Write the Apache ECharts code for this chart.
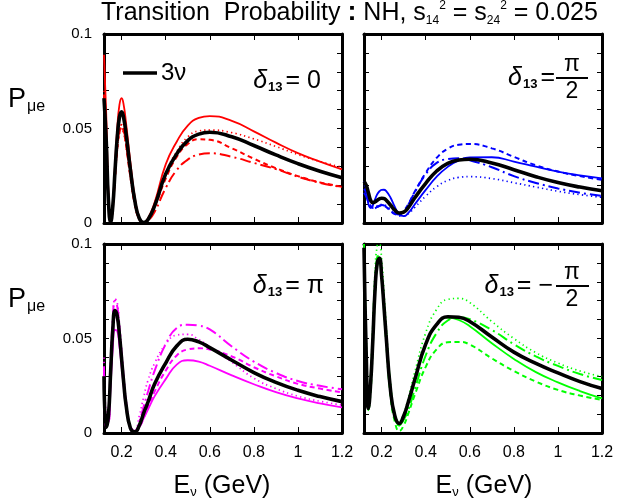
<!DOCTYPE html>
<html><head><meta charset="utf-8">
<script src="https://cdn.jsdelivr.net/npm/echarts@6/dist/echarts.min.js"></script>
<style>html,body{margin:0;padding:0;background:#fff}#c{width:634px;height:499px}</style>
</head><body><div id="c"></div>
<script>
// ---------- data ----------
const energies = [0.12,0.13,0.14,0.15,0.16,0.17,0.18,0.19,0.2,0.21,0.22,0.24,0.26,0.28,0.3,0.32,0.35,0.4,0.45,0.5,0.55,0.6,0.7,0.8,0.9,1.0,1.1,1.2];
const xTickValues = [0.2,0.4,0.6,0.8,1.0,1.2];
const yTickValues = [0,0.01,0.02,0.03,0.04,0.05,0.06,0.07,0.08,0.09,0.1];
const yLabelValues = [0,0.05,0.1];

// delta13 = 0 (red)
const d0_3nu    = [0.066,0.044,0.012,0.0005,0.009,0.0276,0.045,0.0559,0.0588,0.0551,0.0472,0.028,0.0117,0.0025,0.0003,0.0019,0.0092,0.026,0.0365,0.0436,0.047,0.048,0.0456,0.041,0.036,0.0314,0.0274,0.024];
const d0_solid  = [0.089,0.058,0.016,0.0005,0.010,0.031,0.050,0.0625,0.066,0.062,0.053,0.032,0.0135,0.003,0.0003,0.0025,0.011,0.031,0.043,0.0515,0.0556,0.0566,0.054,0.0485,0.0425,0.037,0.0325,0.0284];
const d0_dotted = [0.07,0.046,0.013,0.0005,0.008,0.024,0.038,0.047,0.05,0.047,0.041,0.025,0.011,0.0025,0.0003,0.002,0.0095,0.0265,0.0378,0.0455,0.0487,0.0492,0.0478,0.0445,0.0405,0.0362,0.0325,0.0295];
const d0_dashed = [0.065,0.043,0.012,0.0005,0.008,0.024,0.039,0.048,0.051,0.048,0.041,0.024,0.010,0.0022,0.0003,0.0018,0.0085,0.0235,0.035,0.0418,0.0443,0.044,0.0395,0.034,0.029,0.0248,0.0215,0.0192];
const d0_dashdot= [0.068,0.045,0.013,0.0005,0.008,0.025,0.040,0.049,0.052,0.049,0.042,0.025,0.010,0.002,0.0003,0.0012,0.006,0.0185,0.028,0.0335,0.0362,0.0369,0.035,0.0318,0.0285,0.0245,0.0213,0.019];

// delta13 = pi/2 (blue)
const d1_3nu    = [0.022,0.020,0.016,0.012,0.0108,0.0112,0.012,0.0128,0.0131,0.013,0.0122,0.0095,0.0068,0.0053,0.0058,0.008,0.0132,0.021,0.0275,0.0315,0.0333,0.0337,0.0318,0.0282,0.0245,0.0214,0.019,0.0171];
const d1_solid  = [0.022,0.018,0.010,0.008,0.0095,0.0125,0.0152,0.0168,0.0175,0.0176,0.0170,0.0135,0.0085,0.0045,0.0036,0.0052,0.0098,0.0175,0.0245,0.0297,0.0331,0.0347,0.0348,0.0325,0.0298,0.0272,0.0252,0.0236];
const d1_dotted = [0.02,0.019,0.016,0.012,0.009,0.0085,0.009,0.0095,0.0098,0.0097,0.0092,0.0072,0.005,0.0038,0.0038,0.0048,0.0082,0.0142,0.0192,0.0225,0.0241,0.0245,0.0235,0.0213,0.019,0.0168,0.015,0.0136];
const d1_dashed = [0.018,0.016,0.012,0.009,0.008,0.008,0.0085,0.009,0.0092,0.009,0.0085,0.0065,0.0048,0.0045,0.0065,0.0098,0.0165,0.0265,0.0345,0.0393,0.0414,0.0418,0.0395,0.035,0.0305,0.0272,0.0248,0.0228];
const d1_dashdot= [0.016,0.014,0.011,0.0085,0.0075,0.0078,0.0085,0.0092,0.0095,0.0093,0.0088,0.0068,0.005,0.0045,0.0062,0.0095,0.0162,0.0258,0.0318,0.0338,0.0342,0.0332,0.0295,0.0248,0.0212,0.0183,0.016,0.0143];

// delta13 = pi (magenta)
const d2_3nu    = [0.03,0.003,0.009,0.032,0.055,0.0648,0.062,0.052,0.039,0.026,0.015,0.0025,0.0006,0.004,0.0105,0.0165,0.026,0.037,0.046,0.0496,0.0482,0.0452,0.0385,0.032,0.0268,0.0226,0.0193,0.0166];
const d2_solid  = [0.033,0.006,0.006,0.025,0.045,0.0545,0.054,0.046,0.035,0.0235,0.0135,0.0022,0.0005,0.003,0.0078,0.0125,0.0195,0.0285,0.0362,0.0385,0.0378,0.0356,0.0305,0.0258,0.0216,0.0183,0.0157,0.0136];
const d2_dotted = [0.04,0.008,0.006,0.03,0.058,0.071,0.069,0.058,0.044,0.03,0.018,0.004,0.0015,0.009,0.019,0.028,0.037,0.047,0.0518,0.0522,0.0495,0.0455,0.0375,0.029,0.0235,0.0195,0.0168,0.0148];
const d2_dashed = [0.028,0.003,0.008,0.03,0.052,0.062,0.06,0.051,0.039,0.027,0.016,0.003,0.0005,0.003,0.008,0.0135,0.022,0.033,0.041,0.0442,0.0448,0.0442,0.0405,0.0348,0.030,0.026,0.0235,0.0215];
const d2_dashdot= [0.035,0.004,0.01,0.036,0.061,0.07,0.067,0.056,0.042,0.028,0.016,0.003,0.001,0.006,0.014,0.022,0.033,0.047,0.0555,0.0573,0.0568,0.0548,0.0458,0.0378,0.0318,0.0275,0.025,0.0231];

// delta13 = -pi/2 (green)
const d3_3nu    = [0.098,0.042,0.013,0.026,0.049,0.0755,0.09,0.0925,0.083,0.068,0.052,0.023,0.009,0.005,0.009,0.016,0.028,0.047,0.0575,0.0615,0.0612,0.059,0.0508,0.0428,0.0368,0.0318,0.0272,0.0235];
const d3_solid  = [0.1,0.044,0.012,0.025,0.05,0.077,0.091,0.093,0.083,0.068,0.051,0.022,0.008,0.004,0.008,0.0155,0.0275,0.0465,0.057,0.061,0.0598,0.0565,0.0475,0.0392,0.0322,0.0268,0.0222,0.0183];
const d3_dotted = [0.1,0.05,0.015,0.028,0.055,0.085,0.099,0.1,0.092,0.076,0.058,0.026,0.01,0.006,0.01,0.018,0.032,0.053,0.0655,0.0707,0.0712,0.069,0.059,0.05,0.0425,0.037,0.0328,0.0298];
const d3_dashed = [0.097,0.045,0.012,0.022,0.046,0.073,0.088,0.091,0.082,0.066,0.049,0.02,0.006,0.001,0.004,0.01,0.02,0.035,0.0443,0.048,0.0482,0.0468,0.0395,0.0328,0.0272,0.0228,0.0198,0.0175];
const d3_dashdot= [0.095,0.04,0.014,0.03,0.055,0.08,0.093,0.094,0.085,0.07,0.054,0.025,0.009,0.004,0.007,0.012,0.023,0.041,0.053,0.0595,0.0612,0.0602,0.0545,0.047,0.0405,0.0355,0.0312,0.028];

const panelColors = ['#ff0000','#0000ff','#ff00ff','#00ff00'];
const panelData = [
  {black:d0_3nu, solid:d0_solid, dotted:d0_dotted, dashed:d0_dashed, dashdot:d0_dashdot},
  {black:d1_3nu, solid:d1_solid, dotted:d1_dotted, dashed:d1_dashed, dashdot:d1_dashdot},
  {black:d2_3nu, solid:d2_solid, dotted:d2_dotted, dashed:d2_dashed, dashdot:d2_dashdot},
  {black:d3_3nu, solid:d3_solid, dotted:d3_dotted, dashed:d3_dashed, dashdot:d3_dashdot}
];

// ---------- layout ----------
const FONT = '"Liberation Sans", "DejaVu Sans", sans-serif';
const grids = [
  {left:104, top:34, width:238, height:189},
  {left:364, top:34, width:238, height:189},
  {left:104, top:244, width:238, height:189},
  {left:364, top:244, width:238, height:189}
];

function xAxisDef(g, pos, showLabel){
  return {type:'value', gridIndex:g, position:pos, min:0.12, max:1.2,
    axisLine:{show:true, onZero:false, lineStyle:{color:'#000', width:3}},
    axisTick:{show:true, inside:true, length:6, customValues:xTickValues, lineStyle:{color:'#000', width:1}},
    axisLabel:{show:showLabel, customValues:xTickValues, margin:12, color:'#000', fontSize:16, fontFamily:FONT},
    splitLine:{show:false}};
}
function yAxisDef(g, pos, showLabel){
  return {type:'value', gridIndex:g, position:pos, min:0, max:0.1,
    axisLine:{show:true, onZero:false, lineStyle:{color:'#000', width:3}},
    axisTick:{show:true, inside:true, length:5, customValues:yTickValues, lineStyle:{color:'#000', width:1}},
    axisLabel:{show:showLabel, customValues:yLabelValues, margin:12, color:'#000', fontSize:15, fontFamily:FONT},
    splitLine:{show:false}};
}

const xAxes = [], yAxes = [];
for (let g=0; g<4; g++){
  xAxes.push(xAxisDef(g,'bottom', g>=2));
  yAxes.push(yAxisDef(g,'left', g%2===0));
}
for (let g=0; g<4; g++){
  xAxes.push(xAxisDef(g,'top', false));
  yAxes.push(yAxisDef(g,'right', false));
}

const styles = {
  solid:  {type:'solid', width:1.8},
  dotted: {type:[1.3,3.2], width:1.7},
  dashed: {type:[5,3.5], width:2},
  dashdot:{type:[11,4,2,4], width:2}
};

const series = [];
panelData.forEach((p, g) => {
  ['dashdot','dashed','dotted','solid'].forEach(k => {
    series.push({type:'line', name:k+g, xAxisIndex:g, yAxisIndex:g, showSymbol:false, symbol:'none',
      smooth:0.5, silent:true,
      lineStyle:Object.assign({color:panelColors[g]}, styles[k]),
      data: energies.map((e,i)=>[e, p[k][i]])});
  });
  series.push({type:'line', name:'3ν', xAxisIndex:g, yAxisIndex:g, showSymbol:false, symbol:'none',
    smooth:0.5, silent:true,
    lineStyle:{color:'#000', width:3.6},
    data: energies.map((e,i)=>[e, p.black[i]])});
});

// ---------- text graphics ----------
const txt = (x, y, text, rich, opts) => Object.assign({type:'text', x, y, silent:true,
  style:Object.assign({text, rich, fill:'#000', font:'20px '+FONT, align:'left', verticalAlign:'middle'}, opts||{})});

const deltaRich = {
  d:{fontSize:25, fontFamily:FONT, fontStyle:'italic'},
  s:{fontSize:13, fontFamily:FONT, fontWeight:'bold', verticalAlign:'bottom', padding:[10,0,0,1]},
  e:{fontSize:25, fontFamily:FONT, padding:[0,0,0,3]}
};

const graphics = [
  // title
  txt(101, 13, '{t|Transition  Probability }{c|:}{t| NH, s}{sb|14}{sp|2}{t| = s}{sb|24}{sp|2}{t| = 0.025}', {
    t:{fontSize:25, fontFamily:FONT},
    c:{fontSize:27, fontFamily:FONT, fontWeight:'bold'},
    sb:{fontSize:12, fontFamily:FONT, verticalAlign:'bottom', padding:[13,0,0,0]},
    sp:{fontSize:12, fontFamily:FONT, verticalAlign:'top', padding:[0,0,11,0]}
  }),
  // y titles
  txt(8, 100, '{p|P}{m|μe}', {p:{fontSize:27, fontFamily:FONT}, m:{fontSize:16, fontFamily:FONT, verticalAlign:'bottom', padding:[13,0,0,1]}}),
  txt(8, 300, '{p|P}{m|μe}', {p:{fontSize:27, fontFamily:FONT}, m:{fontSize:16, fontFamily:FONT, verticalAlign:'bottom', padding:[13,0,0,1]}}),
  // x titles
  txt(222, 486, '{e|E}{n|ν}{g| (GeV)}', {e:{fontSize:25, fontFamily:FONT}, n:{fontSize:13, fontFamily:FONT, verticalAlign:'bottom', padding:[13,0,0,0]}, g:{fontSize:25, fontFamily:FONT}}, {align:'center'}),
  txt(484, 486, '{e|E}{n|ν}{g| (GeV)}', {e:{fontSize:25, fontFamily:FONT}, n:{fontSize:13, fontFamily:FONT, verticalAlign:'bottom', padding:[13,0,0,0]}, g:{fontSize:25, fontFamily:FONT}}, {align:'center'}),
  // legend 3nu
  {type:'line', silent:true, shape:{x1:123, y1:73, x2:157, y2:73}, style:{stroke:'#000', lineWidth:3.6}},
  txt(161, 73, '3ν', null, {font:'24px '+FONT}),
  // delta labels
  txt(321, 81, '{d|δ}{s|13}{e|= 0}', deltaRich, {align:'right'}),
  txt(555, 78, '{d|δ}{s|13}{e|=}', deltaRich, {align:'right'}),
  {type:'line', silent:true, shape:{x1:556, y1:78, x2:588, y2:78}, style:{stroke:'#000', lineWidth:2}},
  txt(572, 65, 'π', null, {font:'23px '+FONT, align:'center'}),
  txt(572, 92, '2', null, {font:'23px '+FONT, align:'center'}),
  txt(324, 286, '{d|δ}{s|13}{e|= π}', deltaRich, {align:'right'}),
  txt(553, 286, '{d|δ}{s|13}{e|= −}', deltaRich, {align:'right'}),
  {type:'line', silent:true, shape:{x1:556, y1:286, x2:589, y2:286}, style:{stroke:'#000', lineWidth:2}},
  txt(572, 273, 'π', null, {font:'23px '+FONT, align:'center'}),
  txt(572, 300, '2', null, {font:'23px '+FONT, align:'center'})
];

const chart = echarts.init(document.getElementById('c'), null, {renderer:'canvas'});
chart.setOption({
  backgroundColor:'#fff',
  animation:false,
  grid:grids,
  xAxis:xAxes,
  yAxis:yAxes,
  series,
  graphic:graphics
});
</script>
</body></html>
